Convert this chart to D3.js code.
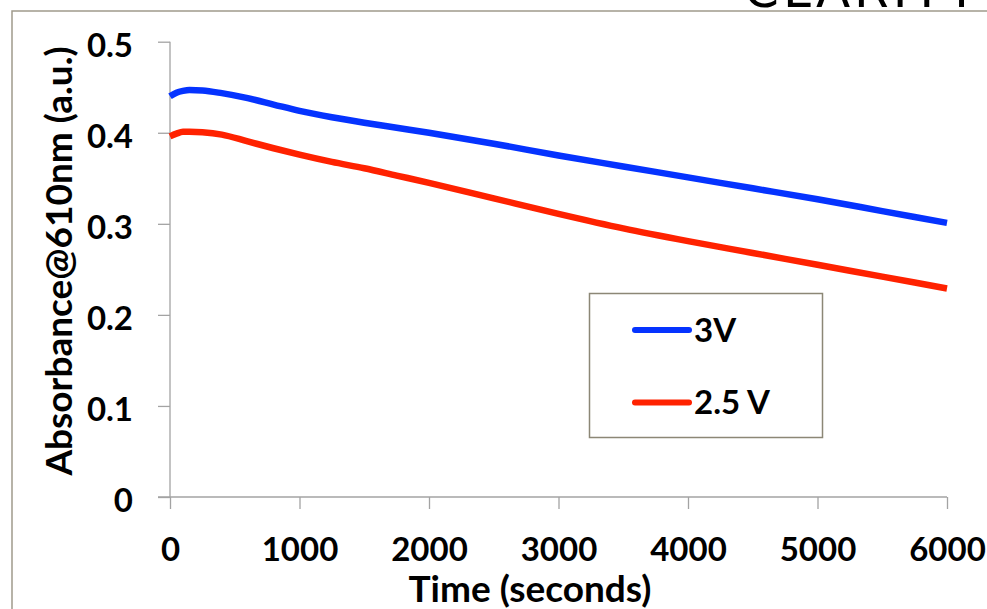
<!DOCTYPE html>
<html>
<head>
<meta charset="utf-8">
<script src="https://cdn.jsdelivr.net/npm/d3@7"></script>
<style>
  html, body { margin: 0; padding: 0; background: #fff; }
  svg { display: block; }
  text { font-family: Lato, "Open Sans", sans-serif; font-weight: bold; fill: #000; }
</style>
</head>
<body>
<svg id="chart" width="987" height="609"></svg>
<script>
// ---- data ----
const timeSeconds = [0, 50, 100, 150, 250, 400, 600, 800, 1000, 1250, 1500, 1750, 2000, 2500, 3000, 3500, 4000, 4500, 5000, 5500, 6000];
const absorbance3V = [0.440, 0.444, 0.446, 0.447, 0.4465, 0.4435, 0.438, 0.431, 0.424, 0.417, 0.411, 0.4055, 0.400, 0.388, 0.375, 0.363, 0.351, 0.339, 0.327, 0.314, 0.301];
const absorbance25V = [0.396, 0.399, 0.401, 0.401, 0.4005, 0.398, 0.3905, 0.383, 0.376, 0.368, 0.361, 0.353, 0.345, 0.328, 0.311, 0.295, 0.281, 0.268, 0.255, 0.242, 0.229];
const seriesNames = ["3V", "2.5 V"];
const seriesColors = ["#0533ff", "#ff2200"];
const xTickValues = [0, 1000, 2000, 3000, 4000, 5000, 6000];
const yTickValues = [0, 0.1, 0.2, 0.3, 0.4, 0.5];
const yTickLabels = ["0", "0.1", "0.2", "0.3", "0.4", "0.5"];
const xTitle = "Time (seconds)";
const yTitle = "Absorbance@610nm (a.u.)";
const cutTitle = "CLARITY";

const series = [absorbance3V, absorbance25V].map((vals, i) => ({
  name: seriesNames[i], color: seriesColors[i],
  points: timeSeconds.map((t, j) => ({ t, v: vals[j] }))
}));

const svg = d3.select("#chart");
const axisColor = "#a3a3a3";
const frameColor = "#a09b8c";
const fontSize = 33;

// outer frame (slide border) and partly visible heading above it
svg.append("text").attr("x", 744).attr("y", 7)
  .style("font-weight", "normal").style("font-size", "50px")
  .style("letter-spacing", "4px").style("font-family", "'DejaVu Sans', sans-serif")
  .text(cutTitle);
svg.append("path")
  .attr("d", "M12,609 L12,11 L987,11")
  .attr("fill", "none").attr("stroke", frameColor).attr("stroke-width", 1.5);

const x = d3.scaleLinear().domain([0, 6000]).range([170, 947]);
const y = d3.scaleLinear().domain([0, 0.5]).range([497, 41.7]);

// y axis
const yAxis = svg.append("g").attr("transform", `translate(${x(0)},0)`)
  .call(d3.axisLeft(y).tickValues(yTickValues).tickSize(12).tickPadding(25)
    .tickFormat((d, i) => yTickLabels[i]));
yAxis.select(".domain").attr("stroke", axisColor).attr("stroke-width", 1.3)
  .attr("d", `M0,${y(0.5)}V${y(0)}`);
yAxis.selectAll(".tick line").attr("stroke", axisColor).attr("stroke-width", 1.3);
yAxis.selectAll(".tick text").attr("dy", "0.44em")
  .style("font-size", fontSize + "px").style("font-family", "Lato, sans-serif").style("font-weight", "bold").attr("fill", "#000");

// x axis
const xAxis = svg.append("g").attr("transform", `translate(0,${y(0)})`)
  .call(d3.axisBottom(x).tickValues(xTickValues).tickSize(12).tickFormat(d3.format("d")));
xAxis.select(".domain").attr("stroke", axisColor).attr("stroke-width", 1.3)
  .attr("d", `M${x(0) - 12},0H${x(6000)}`);
xAxis.selectAll(".tick line").attr("stroke", axisColor).attr("stroke-width", 1.3);
xAxis.selectAll(".tick text").attr("y", 64).attr("dy", null)
  .style("font-size", fontSize + "px").style("font-family", "Lato, sans-serif").style("font-weight", "bold").attr("fill", "#000");

// lines
const line = d3.line().x(d => x(d.t)).y(d => y(d.v)).curve(d3.curveMonotoneX);
svg.append("g").selectAll("path").data(series).join("path")
  .attr("d", d => line(d.points))
  .attr("fill", "none")
  .attr("stroke", d => d.color)
  .attr("stroke-width", 6.5)
  .attr("stroke-linejoin", "round");

// axis titles
svg.append("text").attr("x", 530).attr("y", 602).attr("text-anchor", "middle")
  .style("font-size", "37px").text(xTitle);
svg.append("text").attr("transform", "translate(72,261) rotate(-90)").attr("text-anchor", "middle")
  .style("font-size", "37px").text(yTitle);

// legend
const legend = svg.append("g");
legend.append("rect").attr("x", 589.5).attr("y", 293.5).attr("width", 233).attr("height", 144)
  .attr("fill", "#fff").attr("stroke", "#8c8776").attr("stroke-width", 1.5);
const item = legend.selectAll("g.item").data(series).join("g").attr("class", "item")
  .attr("transform", (d, i) => `translate(0,${330 + i * 72.5})`);
item.append("line").attr("x1", 635).attr("x2", 689).attr("y1", 0).attr("y2", 0)
  .attr("stroke", d => d.color).attr("stroke-width", 6).attr("stroke-linecap", "round");
item.append("text").attr("x", 694).attr("y", 0).attr("dy", "0.36em")
  .style("font-size", fontSize + "px").text(d => d.name);
</script>
</body>
</html>
